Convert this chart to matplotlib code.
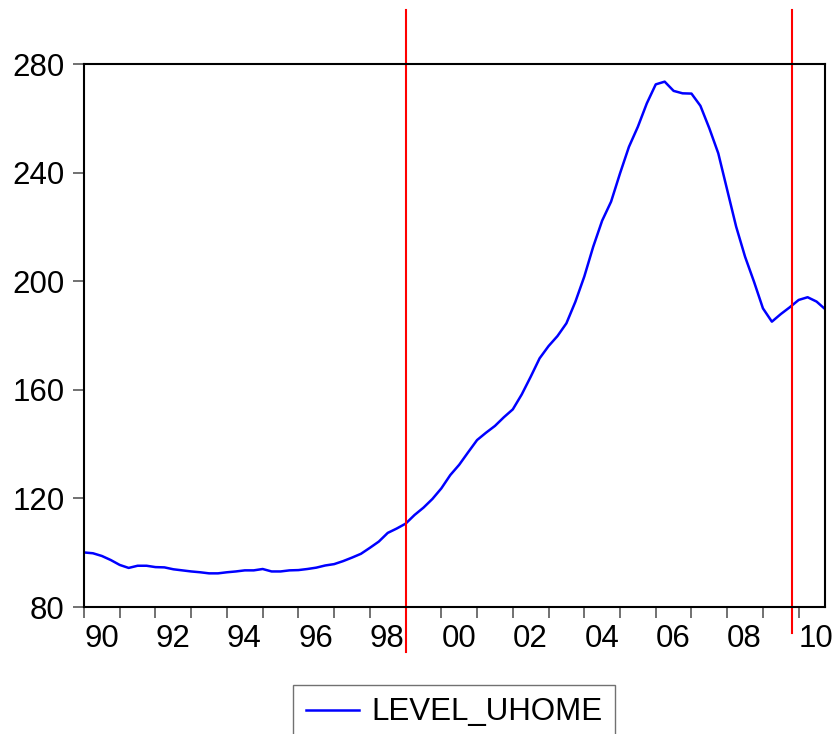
import numpy as np
import matplotlib.pyplot as plt

plt.rcParams['font.family'] = ['Liberation Sans', 'DejaVu Sans']

# quarterly series, 1990Q1 .. 2010Q4
level_uhome = [
    100.1, 99.8, 98.8, 97.3, 95.5, 94.4, 95.2, 95.2, 94.7, 94.6,
    93.9, 93.5, 93.1, 92.8, 92.4, 92.4, 92.8, 93.1, 93.5, 93.5,
    94.0, 93.1, 93.1, 93.5, 93.6, 94.0, 94.5, 95.3, 95.8, 96.9,
    98.2, 99.6, 101.8, 104.1, 107.3, 108.9, 110.7, 113.9, 116.6, 119.8,
    123.7, 128.6, 132.4, 137.0, 141.5, 144.2, 146.7, 149.9, 152.8, 158.3,
    164.8, 171.6, 176.1, 179.8, 184.5, 192.4, 201.7, 212.7, 222.3, 229.3,
    239.7, 249.5, 256.9, 265.5, 272.5, 273.5, 270.1, 269.2, 269.1, 264.6,
    256.3, 247.1, 233.6, 220.1, 209.0, 199.8, 190.0, 185.1, 187.9, 190.4,
    193.1, 194.1, 192.5, 189.6,
]
start_year = 1990
break_dates = [1999.0, 2009.8]
year_ticks = list(range(1990, 2011))
year_labels = [f"{y % 100:02d}" if y % 2 == 0 else "" for y in year_ticks]
y_ticks = [80, 120, 160, 200, 240, 280]

t = start_year + np.arange(len(level_uhome)) / 4.0

fig = plt.figure(figsize=(8.35, 7.34), dpi=100)
ax = fig.add_axes([0.1006, 0.173, 0.888, 0.7398])

line, = ax.plot(t, level_uhome, color='#0000FF', lw=1.8, label='LEVEL_UHOME')

# break lines run past the frame
ax.axvline(break_dates[0], ymin=-0.083, ymax=1.099, color='#FF0000', lw=1.5, clip_on=False)
ax.axvline(break_dates[1], ymin=-0.048, ymax=1.099, color='#FF0000', lw=1.5, clip_on=False)

ax.set_xlim(1990, 2010.75)
ax.set_ylim(80, 280)
ax.set_xticks(year_ticks)
ax.set_xticklabels(year_labels, ha='left')
ax.set_yticks(y_ticks)

ax.tick_params(axis='both', direction='out', length=8, width=1.2,
               color='0.35', labelsize=22.5)
ax.tick_params(axis='x', pad=4)
ax.tick_params(axis='y', pad=6)
for s in ax.spines.values():
    s.set_linewidth(1.5)
    s.set_color('black')

leg = fig.legend(handles=[line], loc='upper left',
                 bbox_to_anchor=(293 / 835, 1 - 685 / 734),
                 fontsize=22.5, frameon=True, fancybox=False,
                 edgecolor='0.3', handlelength=1.7, borderpad=0.4,
                 handletextpad=0.4, borderaxespad=0)
leg.get_frame().set_linewidth(1.0)

fig.savefig('out.png', dpi=100)
